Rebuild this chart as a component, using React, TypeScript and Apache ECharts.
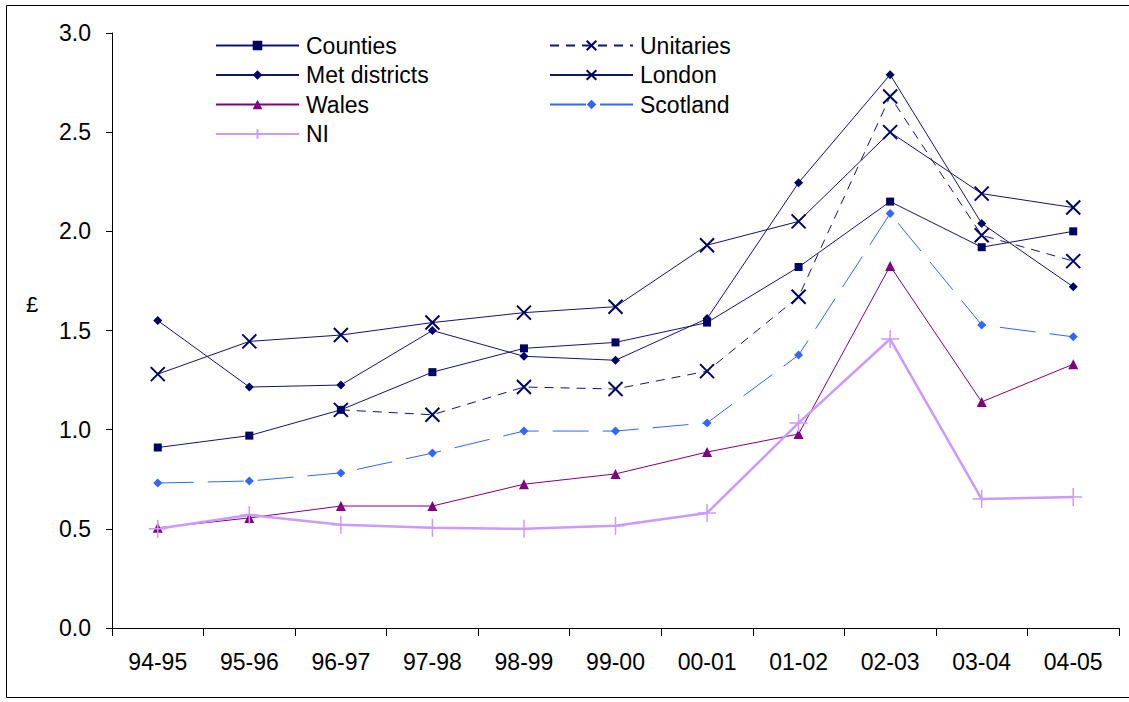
import React, { useEffect, useRef } from "react";
import * as echarts from "echarts";

const categories = ["94-95", "95-96", "96-97", "97-98", "98-99", "99-00", "00-01", "01-02", "02-03", "03-04", "04-05"];
const counties = [0.91, 0.97, 1.10, 1.29, 1.41, 1.44, 1.54, 1.82, 2.15, 1.92, 2.00];
const metDistricts = [1.55, 1.215, 1.225, 1.50, 1.37, 1.35, 1.56, 2.245, 2.79, 2.04, 1.72];
const unitaries = [null, null, 1.10, 1.075, 1.215, 1.205, 1.295, 1.67, 2.68, 1.98, 1.85];
const london = [1.28, 1.445, 1.477, 1.54, 1.59, 1.62, 1.93, 2.05, 2.50, 2.19, 2.12];
const wales = [0.505, 0.555, 0.615, 0.615, 0.725, 0.777, 0.887, 0.978, 1.825, 1.14, 1.33];
const scotland = [0.731, 0.741, 0.782, 0.882, 0.993, 0.993, 1.034, 1.376, 2.09, 1.528, 1.468];
const ni = [0.50, 0.57, 0.52, 0.505, 0.50, 0.515, 0.58, 1.034, 1.457, 0.65, 0.66];
const yTicks = ["0.0", "0.5", "1.0", "1.5", "2.0", "2.5", "3.0"];

const NAVY = "#000066";
const CROSS = "path://M0,0L10,10M10,0L0,10";
const PLUS = "path://M5,0L5,10M0,5L10,5";
const FONT = "Liberation Sans, Arial, sans-serif";

export default function App() {
  const ref = useRef<HTMLDivElement>(null);
  useEffect(() => {
    if (!ref.current) return;
    const chart = echarts.init(ref.current, null, { renderer: "svg" });
    const mk = (name: string, data: (number | null)[], color: string, lineColor: string, symbol: string, size: number, lineType: any, lineWidth: number, strokeSymbol: boolean, symW = 2) => ({
      name,
      type: "line",
      data,
      symbol,
      symbolSize: size,
      showSymbol: true,
      itemStyle: strokeSymbol
        ? { color: color, borderColor: color, borderWidth: symW }
        : { color: color, borderWidth: 0 },
      lineStyle: { color: lineColor, width: lineWidth, type: lineType },
      emphasis: { disabled: true },
      z: 2,
    });
    const legendCommon = {
      orient: "vertical",
      top: 34,
      padding: 0,
      itemWidth: 83,
      itemHeight: 12,
      itemGap: 6.5,
      textStyle: { fontSize: 23, color: "#000", fontFamily: FONT, padding: [0, 0, 0, 2] },
      selectedMode: false,
    };
    chart.setOption({
      animation: false,
      backgroundColor: "#ffffff",
      textStyle: { fontFamily: FONT },
      grid: { left: 112, right: 10, top: 33, bottom: 74, containLabel: false },
      legend: [
        { ...legendCommon, data: ["Counties", "Met districts", "Wales", "NI"], left: 215 },
        { ...legendCommon, data: ["Unitaries", "London", "Scotland"], left: 549 },
      ],
      xAxis: {
        type: "category",
        data: categories,
        boundaryGap: true,
        axisLine: { lineStyle: { color: "#000", width: 1 } },
        axisTick: { show: true, length: 8, lineStyle: { color: "#000" } },
        axisLabel: { fontSize: 23, color: "#000", margin: 22, fontFamily: FONT },
        splitLine: { show: false },
      },
      yAxis: {
        type: "value",
        min: 0,
        max: 3,
        interval: 0.5,
        axisLine: { show: true, lineStyle: { color: "#000", width: 1 } },
        axisTick: { show: true, length: 6, lineStyle: { color: "#000" } },
        axisLabel: {
          fontSize: 23,
          color: "#000",
          margin: 21,
          fontFamily: FONT,
          formatter: (v: number) => yTicks[Math.round(v / 0.5)] ?? v.toFixed(1),
        },
        splitLine: { show: false },
      },
      graphic: [
        {
          type: "rect",
          shape: { x: 6.5, y: 5.5, width: 1140, height: 692 },
          style: { fill: "none", stroke: "#000", lineWidth: 1 },
          silent: true,
          z: -1,
        },
        {
          type: "text",
          x: 32,
          y: 304,
          style: { text: "£", fontSize: 22, fill: "#000", fontFamily: FONT, align: "center", verticalAlign: "middle" },
          silent: true,
        },
      ],
      series: [
        mk("Counties", counties, NAVY, "#14146e", "rect", 8, "solid", 1, false),
        mk("Unitaries", unitaries, NAVY, "#14146e", CROSS, 14, [9, 7], 1, true),
        mk("Met districts", metDistricts, NAVY, "#14146e", "diamond", 9, "solid", 1, false),
        mk("London", london, NAVY, "#14146e", CROSS, 14, "solid", 1, true),
        mk("Wales", wales, "#800080", "#800080", "triangle", 10, "solid", 1, false),
        mk("Scotland", scotland, "#3366ff", "#3366ff", "diamond", 9, [36, 14], 1, false),
        mk("NI", ni, "#cc99ff", "#cc99ff", PLUS, 18, "solid", 2.5, true, 1.5),
      ],
    });
    return () => chart.dispose();
  }, []);
  return <div ref={ref} style={{ position: "fixed", left: 0, top: 0, width: 1129, height: 702 }} />;
}
